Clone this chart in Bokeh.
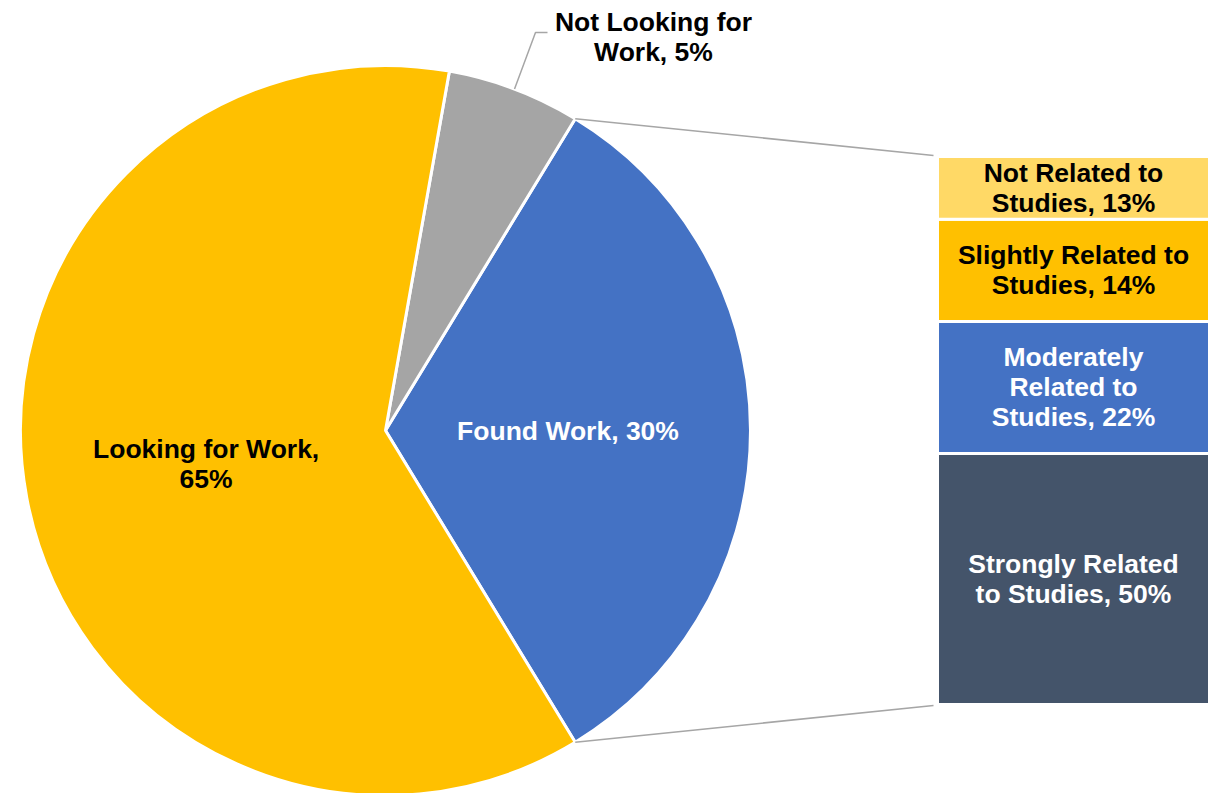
import numpy as np
from bokeh.plotting import figure
from bokeh.models import Range1d, ColumnDataSource
from bokeh.embed import file_html
from bokeh.resources import INLINE
from bokeh.core.properties import value

# ---------------- data ----------------
pie_categories = ["Found Work", "Not Looking for Work", "Looking for Work"]
pie_shares = [32.6, 5.9, 61.5]
pie_labels = ["Found Work, 30%", "Not Looking for\nWork, 5%", "Looking for Work,\n65%"]
pie_colors = ["#4472C4", "#A5A5A5", "#FFC000"]
pie_text_colors = ["white", "black", "black"]

bar_categories = ["Strongly Related to Studies", "Moderately Related to Studies",
                  "Slightly Related to Studies", "Not Related to Studies"]
bar_shares = [45.8, 24.1, 18.65, 11.45]
bar_labels = ["Strongly Related\nto Studies, 50%", "Moderately\nRelated to\nStudies, 22%",
              "Slightly Related to\nStudies, 14%", "Not Related to\nStudies, 13%"]
bar_colors = ["#44546A", "#4472C4", "#FFC000", "#FFD966"]
bar_text_colors = ["white", "white", "black", "black"]

# ---------------- layout ----------------
W, H = 1220, 793
CX, CY, R = 385, -430, 365
BAR_LEFT, BAR_RIGHT = 937, 1209
BAR_BOTTOM, BAR_TOP = -704, -156
FONT = value("Liberation Sans")
FSIZE = "26.5px"
LH = 1.0
LINE_COLOR = "#A6A6A6"

p = figure(width=W, height=H, output_backend="svg", toolbar_location=None,
           x_range=Range1d(0, W), y_range=Range1d(-H, 0),
           min_border=0, outline_line_color=None)
p.axis.visible = False
p.grid.visible = False
p.background_fill_color = "white"
p.border_fill_color = "white"

# ---- pie ----
shares = np.array(pie_shares, dtype=float)
fr = shares / shares.sum()
ang = fr * 2 * np.pi
start0 = -ang[0] / 2
starts = start0 + np.concatenate([[0], np.cumsum(ang)[:-1]])
ends = starts + ang
mids = (starts + ends) / 2

pie_src = ColumnDataSource(dict(cat=pie_categories, start=starts, end=ends, color=pie_colors))
p.wedge(x=CX, y=CY, radius=R, start_angle="start", end_angle="end",
        fill_color="color", line_color="white", line_width=3, source=pie_src)

# connector lines from Found Work slice to bar
x_top = CX + R * np.cos(ends[0])
y_top = CY + R * np.sin(ends[0])
x_bot = CX + R * np.cos(starts[0])
y_bot = CY + R * np.sin(starts[0])
p.segment(x0=[x_top, x_bot], y0=[y_top, y_bot], x1=[BAR_LEFT - 4, BAR_LEFT - 4],
          y1=[BAR_TOP + 1, BAR_BOTTOM - 1], line_color=LINE_COLOR, line_width=1.5)

# inside labels (Found Work, Looking for Work)
for i in [0, 2]:
    lx = CX + 0.5 * R * np.cos(mids[i])
    ly = CY + 0.5 * R * np.sin(mids[i])
    p.text(x=[lx], y=[ly], text=[pie_labels[i]], text_font=FONT, text_font_size=FSIZE,
           text_font_style="bold", text_color=pie_text_colors[i],
           text_align="center", text_baseline="middle", text_line_height=LH)

# outside label (Not Looking for Work) with leader line
ex = CX + R * np.cos(mids[1])
ey = CY + R * np.sin(mids[1])
p.line(x=[ex, 535, 547], y=[ey, -32, -32], line_color=LINE_COLOR, line_width=1.5)
p.text(x=[653], y=[-36], text=[pie_labels[1]], text_font=FONT, text_font_size=FSIZE,
       text_font_style="bold", text_color="black",
       text_align="center", text_baseline="middle", text_line_height=LH)

# ---- bar ----
bs = np.array(bar_shares, dtype=float)
bfr = bs / bs.sum()
total_h = BAR_TOP - BAR_BOTTOM
tops = BAR_BOTTOM + np.cumsum(bfr) * total_h
bottoms = tops - bfr * total_h
bar_src = ColumnDataSource(dict(cat=bar_categories, top=tops, bottom=bottoms, color=bar_colors))
p.quad(left=BAR_LEFT, right=BAR_RIGHT, top="top", bottom="bottom", fill_color="color",
       line_color="white", line_width=3, source=bar_src)

for i in range(len(bar_labels)):
    p.text(x=[(BAR_LEFT + BAR_RIGHT) / 2], y=[(tops[i] + bottoms[i]) / 2], text=[bar_labels[i]],
           text_font=FONT, text_font_size=FSIZE, text_font_style="bold",
           text_color=bar_text_colors[i], text_align="center", text_baseline="middle",
           text_line_height=LH)

open("out.html", "w").write(file_html(p, INLINE))
